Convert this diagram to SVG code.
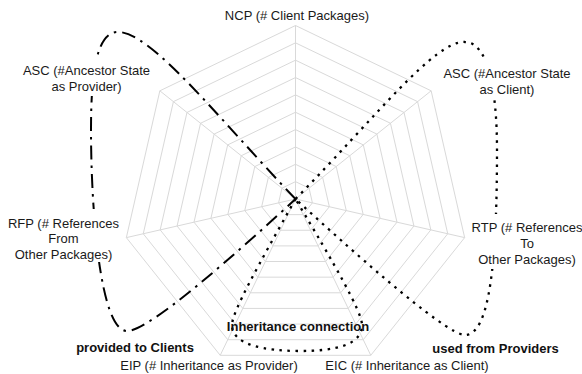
<svg xmlns="http://www.w3.org/2000/svg" width="582" height="374" viewBox="0 0 582 374">
<style>
.ring{fill:none;stroke:#d9d9d9;stroke-width:1}
.spoke{stroke:#d9d9d9;stroke-width:1}
.dashdot{fill:none;stroke:#000;stroke-width:2;stroke-dasharray:14 6 2.5 6}
.dot{fill:none;stroke:#000;stroke-width:2.3;stroke-dasharray:2.5 5.5}
.lbl{font-family:"Liberation Sans",Arial,sans-serif;font-size:13px;fill:#1a1a1a;text-anchor:middle}
.bold{font-weight:bold;fill:#111}
.bg{fill:#fff}
</style>
<rect width="582" height="374" fill="#fff"/>
<g id="grid">
<polygon class="ring" points="295.5,181.65 309.07,188.18 312.42,202.86 303.03,214.63 287.97,214.63 278.58,202.86 281.93,188.18"/>
<polygon class="ring" points="295.5,164.3 322.63,177.36 329.33,206.72 310.56,230.26 280.44,230.26 261.67,206.72 268.37,177.36"/>
<polygon class="ring" points="295.5,146.95 336.2,166.55 346.25,210.58 318.08,245.9 272.92,245.9 244.75,210.58 254.8,166.55"/>
<polygon class="ring" points="295.5,129.6 349.76,155.73 363.16,214.44 325.61,261.53 265.39,261.53 227.84,214.44 241.24,155.73"/>
<polygon class="ring" points="295.5,112.25 363.33,144.91 380.08,218.31 333.14,277.16 257.86,277.16 210.92,218.31 227.67,144.91"/>
<polygon class="ring" points="295.5,94.9 376.89,134.09 396.99,222.17 340.67,292.79 250.33,292.79 194.01,222.17 214.11,134.09"/>
<polygon class="ring" points="295.5,77.55 390.46,123.27 413.91,226.03 348.2,308.42 242.8,308.42 177.09,226.03 200.54,123.27"/>
<polygon class="ring" points="295.5,60.2 404.02,112.46 430.82,229.89 355.72,324.06 235.28,324.06 160.18,229.89 186.98,112.46"/>
<polygon class="ring" points="295.5,42.85 417.59,101.64 447.74,233.75 363.25,339.69 227.75,339.69 143.26,233.75 173.41,101.64"/>
<polygon class="ring" points="295.5,25.5 431.15,90.82 464.65,237.61 370.78,355.32 220.22,355.32 126.35,237.61 159.85,90.82"/>
<line class="spoke" x1="295.5" y1="199" x2="295.5" y2="25.5"/>
<line class="spoke" x1="295.5" y1="199" x2="431.15" y2="90.82"/>
<line class="spoke" x1="295.5" y1="199" x2="464.65" y2="237.61"/>
<line class="spoke" x1="295.5" y1="199" x2="370.78" y2="355.32"/>
<line class="spoke" x1="295.5" y1="199" x2="220.22" y2="355.32"/>
<line class="spoke" x1="295.5" y1="199" x2="126.35" y2="237.61"/>
<line class="spoke" x1="295.5" y1="199" x2="159.85" y2="90.82"/>
</g>
<g id="connectors">
<path id="provided" class="dashdot" d="M295.5,199 C220,120 150,30 117,32 C95,33 91,80 91,130 C91,210 100,331 127,331 C150,331 240,250 295.5,199 Z"/>
<path id="used" class="dot" d="M295.5,199 C375,118 435,40 465,42 C488,42 497,90 497,150 C497,260 490,335 465,335 C445,335 340,240 295.5,199 Z"/>
<path id="inherit" class="dot" d="M295.5,199 C258.5,265 232,312 232,325 C232,345 265,351 300,351 C335,351 362,345 362,325 C362,312 335,265 295.5,199 Z"/>
</g>
<g id="label-backgrounds">
<rect class="bg" x="20" y="58" width="133" height="38"/>
<rect class="bg" x="440" y="61" width="138" height="39"/>
<rect class="bg" x="4" y="209" width="118" height="53"/>
<rect class="bg" x="468" y="214" width="114" height="55"/>
</g>
<g id="node-ncp"><text class="lbl" x="297" y="19.5">NCP (# Client Packages)</text></g>
<g id="node-asc-provider"><text class="lbl" x="86.5" y="75">ASC (#Ancestor State</text><text class="lbl" x="86.5" y="91">as Provider)</text></g>
<g id="node-asc-client"><text class="lbl" x="507" y="78">ASC (#Ancestor State</text><text class="lbl" x="507" y="94">as Client)</text></g>
<g id="node-rfp"><text class="lbl" x="63.5" y="227.5">RFP (# References</text><text class="lbl" x="63.5" y="243">From</text><text class="lbl" x="63.5" y="258.5">Other Packages)</text></g>
<g id="node-rtp"><text class="lbl" x="527" y="232">RTP (# References</text><text class="lbl" x="527" y="248">To</text><text class="lbl" x="527" y="264">Other Packages)</text></g>
<g id="node-eip"><text class="lbl" x="209" y="370">EIP (# Inheritance as Provider)</text></g>
<g id="node-eic"><text class="lbl" x="407" y="370">EIC (# Inheritance as Client)</text></g>
<g id="legend-provided"><text class="lbl bold" x="135" y="352">provided to Clients</text></g>
<g id="legend-used"><text class="lbl bold" x="495.5" y="353">used from Providers</text></g>
<g id="legend-inherit"><text class="lbl bold" x="298" y="331">Inheritance connection</text></g>
</svg>
